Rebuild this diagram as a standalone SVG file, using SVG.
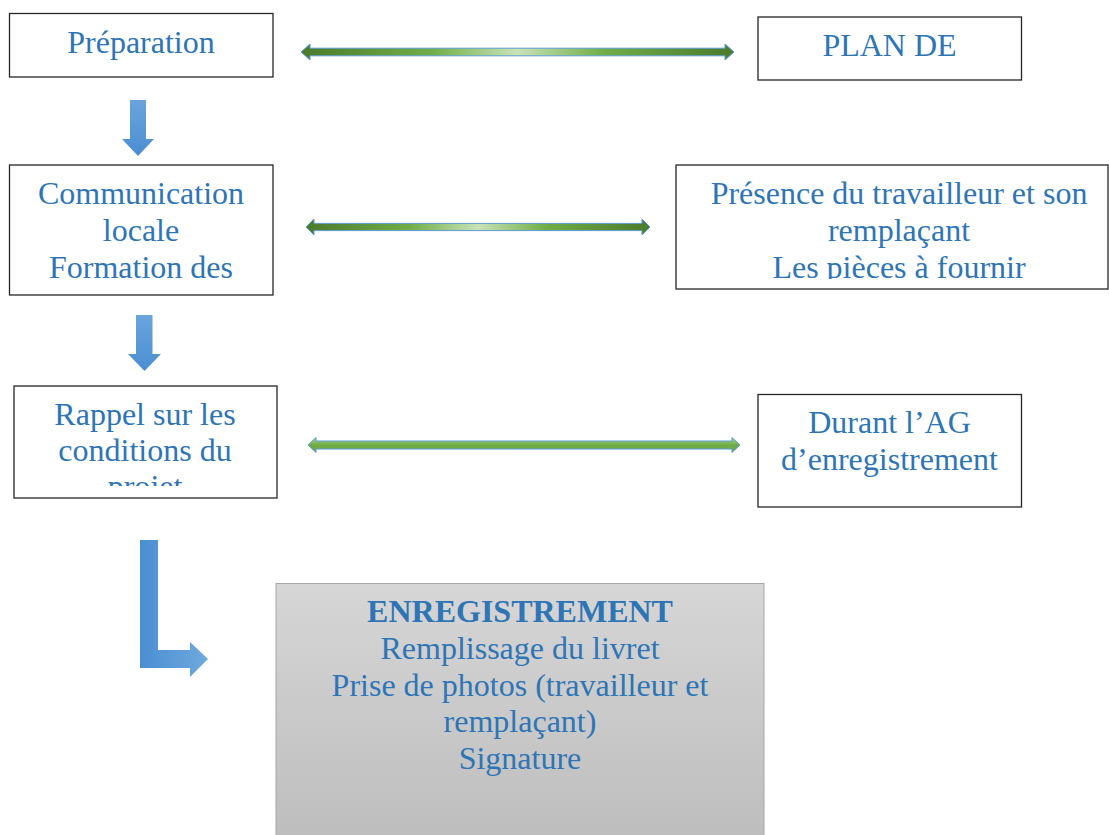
<svg xmlns="http://www.w3.org/2000/svg" width="1109" height="835" viewBox="0 0 1109 835">
<style>
.box{fill:#ffffff;stroke:#262626;stroke-width:1.3}
.t{font-family:"Liberation Serif","Times New Roman",serif;font-size:32px;fill:#2e75b6;text-anchor:middle}
.b{font-weight:bold}
.harrow{stroke:#5b9bd5;stroke-width:1}
</style>
<defs>
<linearGradient id="gGreen" x1="0" y1="0" x2="1" y2="0">
<stop offset="0" stop-color="#4b7a2c"/>
<stop offset="0.3" stop-color="#70ad47"/>
<stop offset="0.5" stop-color="#c9e3b8"/>
<stop offset="0.7" stop-color="#70ad47"/>
<stop offset="1" stop-color="#4b7a2c"/>
</linearGradient>
<linearGradient id="gGreenV" x1="0" y1="0" x2="0" y2="1">
<stop offset="0" stop-color="#a9d18e"/>
<stop offset="0.5" stop-color="#70ad47"/>
<stop offset="1" stop-color="#6aa843"/>
</linearGradient>
<linearGradient id="gBlueV" x1="0" y1="0" x2="0" y2="1">
<stop offset="0" stop-color="#6aa4dc"/>
<stop offset="1" stop-color="#4a8ed2"/>
</linearGradient>
<linearGradient id="gBlueH" x1="0" y1="0" x2="1" y2="0">
<stop offset="0" stop-color="#4a8ed2"/>
<stop offset="1" stop-color="#6fa9de"/>
</linearGradient>
<linearGradient id="gGray" x1="0" y1="0" x2="0" y2="1">
<stop offset="0" stop-color="#d6d6d6"/>
<stop offset="1" stop-color="#bdbdbd"/>
</linearGradient>
<clipPath id="c2"><rect x="676" y="165" width="433" height="114"/></clipPath>
<clipPath id="c3"><rect x="14" y="386" width="263" height="100"/></clipPath>
</defs>

<g id="connectors">
<path class="harrow" fill="url(#gGreen)" d="M301,52 L310,44 L310,48.2 L725,48.2 L725,44 L734,52 L725,60 L725,55.8 L310,55.8 L310,60 Z"/>
<path class="harrow" fill="url(#gGreen)" d="M306,227 L314,219 L314,223.4 L642,223.4 L642,219 L650,227 L642,235 L642,230.6 L314,230.6 L314,235 Z"/>
<path class="harrow" fill="url(#gGreenV)" d="M308,445 L316,437.5 L316,441 L732,441 L732,437.5 L740,445 L732,452.5 L732,449 L316,449 L316,452.5 Z"/>
<path fill="url(#gBlueV)" d="M130,100 L146,100 L146,139 L154,139 L138,156 L122,139 L130,139 Z"/>
<path fill="url(#gBlueV)" d="M136,315 L152.5,315 L152.5,354 L161,354 L144.5,371 L128,354 L136,354 Z"/>
<path fill="url(#gBlueH)" d="M140,540 L158,540 L158,650 L190,650 L190,642 L208,659 L190,677 L190,668 L140,668 Z"/>
</g>

<g id="n-preparation">
<rect class="box" x="9.5" y="13.5" width="263.5" height="63.5"/>
<text class="t" x="141" y="53">Préparation</text>
</g>

<g id="n-plan">
<rect class="box" x="758" y="17" width="263.5" height="63"/>
<text class="t" x="889.5" y="56">PLAN DE</text>
</g>

<g id="n-communication">
<rect class="box" x="9.5" y="165" width="263.5" height="130"/>
<text class="t" x="141" y="204">Communication</text>
<text class="t" x="141" y="241">locale</text>
<text class="t" x="141" y="278">Formation des</text>
</g>

<g id="n-presence">
<rect class="box" x="676" y="165" width="432" height="124"/>
<g clip-path="url(#c2)">
<text class="t" x="899" y="204">Présence du travailleur et son</text>
<text class="t" x="899" y="241">remplaçant</text>
<text class="t" x="899" y="278">Les pièces à fournir</text>
</g>
</g>

<g id="n-rappel">
<rect class="box" x="14" y="386" width="263" height="112"/>
<g clip-path="url(#c3)">
<text class="t" x="145" y="425">Rappel sur les</text>
<text class="t" x="145" y="461">conditions du</text>
<text class="t" x="145" y="497">projet</text>
</g>
</g>

<g id="n-durant">
<rect class="box" x="758" y="394.5" width="263.5" height="112.5"/>
<text class="t" x="889.5" y="433">Durant l’AG</text>
<text class="t" x="889.5" y="470">d’enregistrement</text>
</g>

<g id="n-enregistrement">
<rect x="276" y="583.5" width="488" height="260" fill="url(#gGray)" stroke="#a6a6a6" stroke-width="1"/>
<text class="t b" x="520" y="622">ENREGISTREMENT</text>
<text class="t" x="520" y="659">Remplissage du livret</text>
<text class="t" x="520" y="696">Prise de photos (travailleur et</text>
<text class="t" x="520" y="732">remplaçant)</text>
<text class="t" x="520" y="769">Signature</text>
</g>
</svg>
